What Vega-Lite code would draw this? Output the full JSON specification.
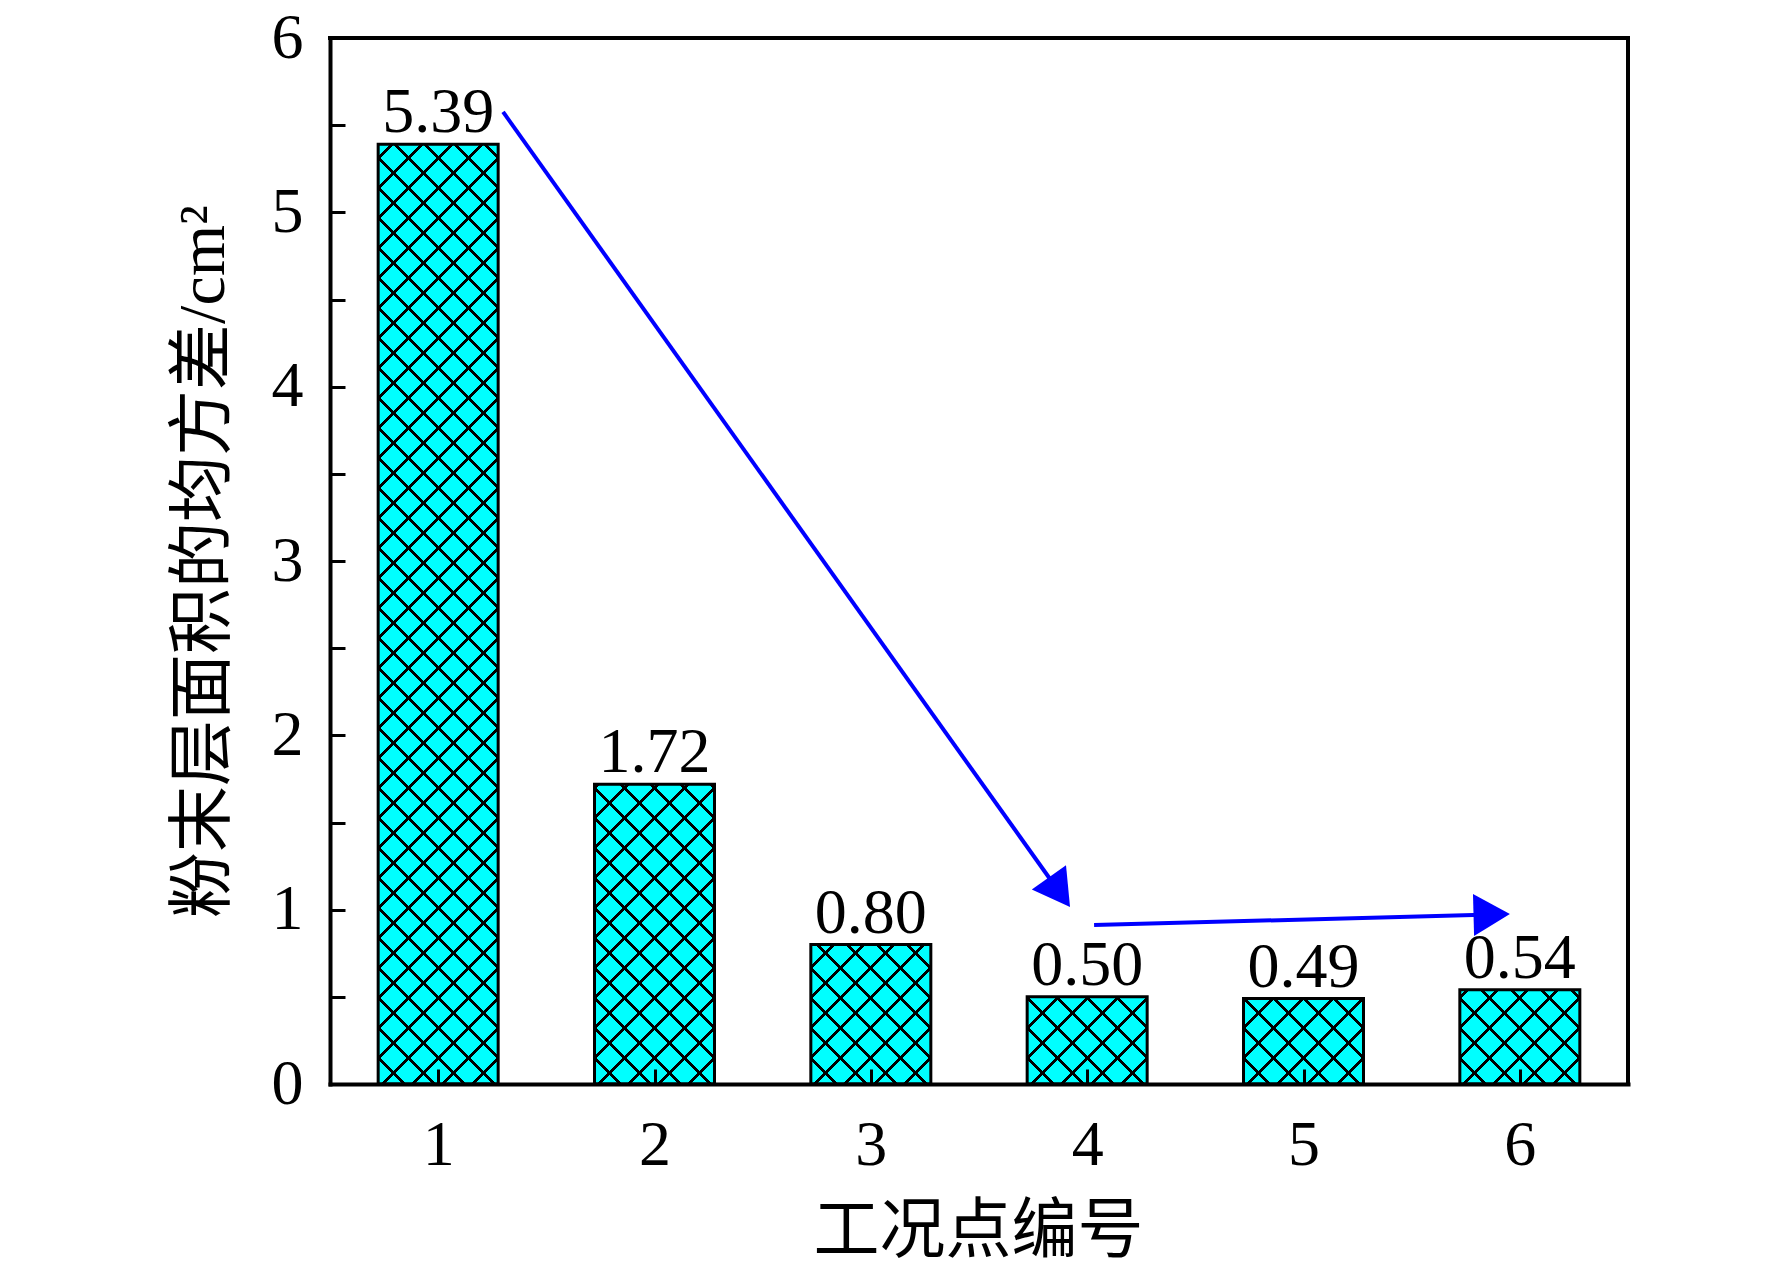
{
  "$schema": "https://vega.github.io/schema/vega-lite/v6.json",
  "width": 1298,
  "height": 1046,
  "autosize": "none",
  "padding": {"left": 330, "top": 38, "right": 144, "bottom": 184},
  "background": "white",
  "config": {"view": {"stroke": null}, "font": "Liberation Serif"},
  "datasets": {
    "bars": [
      {"case": 1, "value": 5.39},
      {"case": 2, "value": 1.72},
      {"case": 3, "value": 0.80},
      {"case": 4, "value": 0.50},
      {"case": 5, "value": 0.49},
      {"case": 6, "value": 0.54}
    ],
    "arrows": [
      {"arrow": "a", "step": 0, "ax": 1.300, "ay": 5.576},
      {"arrow": "a", "step": 1, "ax": 3.872, "ay": 1.100},
      {"arrow": "b", "step": 0, "ax": 4.032, "ay": 0.912},
      {"arrow": "b", "step": 1, "ax": 5.870, "ay": 0.972}
    ],
    "frame": [{}]
  },
  "layer": [
    {
      "data": {"name": "bars"},
      "mark": {"type": "bar", "width": 120, "fill": "#00ffff", "strokeWidth": 0},
      "encoding": {
        "x": {
          "field": "case", "type": "quantitative", "title": "工况点编号",
          "scale": {"domain": [0.5, 6.5], "nice": false, "zero": false, "padding": 0},
          "axis": {
            "values": [1, 2, 3, 4, 5, 6], "format": "d", "title": "工况点编号", "grid": false,
            "domainColor": "black", "domainWidth": 4, "domainCap": "square",
            "tickColor": "black", "tickWidth": 3, "tickSize": -15,
            "labelFont": "Liberation Serif", "labelFontSize": 64, "labelColor": "black",
            "labelPadding": 44, "labelFlush": false, "labelOverlap": false,
            "titleFont": "Liberation Serif, Noto Sans CJK SC", "titleFontSize": 66,
            "titleFontWeight": "normal", "titleColor": "black",
            "titleX": 648, "titleY": 147, "titleAlign": "center", "titleBaseline": "middle",
            "zindex": 1
          }
        },
        "y": {
          "field": "value", "type": "quantitative", "title": "粉末层面积的均方差/cm²",
          "scale": {"domain": [0, 6], "nice": false, "padding": 0},
          "axis": {
            "values": [0, 0.5, 1, 1.5, 2, 2.5, 3, 3.5, 4, 4.5, 5, 5.5, 6],
            "labelExpr": "datum.value % 1 === 0 ? format(datum.value, 'd') : ''",
            "title": "粉末层面积的均方差/cm²", "grid": false,
            "domainColor": "black", "domainWidth": 4, "domainCap": "square",
            "tickColor": "black", "tickWidth": 3, "tickSize": -15,
            "labelFont": "Liberation Serif", "labelFontSize": 64, "labelColor": "black",
            "labelPadding": 42, "labelFlush": false, "labelOverlap": false,
            "titleFont": "Liberation Serif, Noto Sans CJK SC", "titleFontSize": 66,
            "titleFontWeight": "normal", "titleColor": "black",
            "titleX": -127, "titleY": 523, "titleAlign": "center", "titleBaseline": "middle",
            "zindex": 1
          }
        },
        "y2": {"datum": 0}
      }
    },
    {
      "data": {"name": "bars"},
      "mark": {
        "type": "bar", "width": 120, "strokeWidth": 0,
        "fill": {
          "gradient": "linear", "x1": 0, "y1": 0, "x2": 0.12622, "y2": 1.10027,
          "stops": [
            {"offset": 0, "color": "transparent"},
            {"offset": 0.0240, "color": "transparent"}, {"offset": 0.0240, "color": "#000"}, {"offset": 0.0274, "color": "#000"}, {"offset": 0.0274, "color": "transparent"},
            {"offset": 0.0498, "color": "transparent"}, {"offset": 0.0498, "color": "#000"}, {"offset": 0.0532, "color": "#000"}, {"offset": 0.0532, "color": "transparent"},
            {"offset": 0.0755, "color": "transparent"}, {"offset": 0.0755, "color": "#000"}, {"offset": 0.0789, "color": "#000"}, {"offset": 0.0789, "color": "transparent"},
            {"offset": 0.1012, "color": "transparent"}, {"offset": 0.1012, "color": "#000"}, {"offset": 0.1046, "color": "#000"}, {"offset": 0.1046, "color": "transparent"},
            {"offset": 0.1270, "color": "transparent"}, {"offset": 0.1270, "color": "#000"}, {"offset": 0.1304, "color": "#000"}, {"offset": 0.1304, "color": "transparent"},
            {"offset": 0.1527, "color": "transparent"}, {"offset": 0.1527, "color": "#000"}, {"offset": 0.1561, "color": "#000"}, {"offset": 0.1561, "color": "transparent"},
            {"offset": 0.1784, "color": "transparent"}, {"offset": 0.1784, "color": "#000"}, {"offset": 0.1818, "color": "#000"}, {"offset": 0.1818, "color": "transparent"},
            {"offset": 0.2041, "color": "transparent"}, {"offset": 0.2041, "color": "#000"}, {"offset": 0.2075, "color": "#000"}, {"offset": 0.2075, "color": "transparent"},
            {"offset": 0.2299, "color": "transparent"}, {"offset": 0.2299, "color": "#000"}, {"offset": 0.2333, "color": "#000"}, {"offset": 0.2333, "color": "transparent"},
            {"offset": 0.2556, "color": "transparent"}, {"offset": 0.2556, "color": "#000"}, {"offset": 0.2590, "color": "#000"}, {"offset": 0.2590, "color": "transparent"},
            {"offset": 0.2813, "color": "transparent"}, {"offset": 0.2813, "color": "#000"}, {"offset": 0.2847, "color": "#000"}, {"offset": 0.2847, "color": "transparent"},
            {"offset": 0.3071, "color": "transparent"}, {"offset": 0.3071, "color": "#000"}, {"offset": 0.3105, "color": "#000"}, {"offset": 0.3105, "color": "transparent"},
            {"offset": 0.3328, "color": "transparent"}, {"offset": 0.3328, "color": "#000"}, {"offset": 0.3362, "color": "#000"}, {"offset": 0.3362, "color": "transparent"},
            {"offset": 0.3585, "color": "transparent"}, {"offset": 0.3585, "color": "#000"}, {"offset": 0.3619, "color": "#000"}, {"offset": 0.3619, "color": "transparent"},
            {"offset": 0.3842, "color": "transparent"}, {"offset": 0.3842, "color": "#000"}, {"offset": 0.3876, "color": "#000"}, {"offset": 0.3876, "color": "transparent"},
            {"offset": 0.4100, "color": "transparent"}, {"offset": 0.4100, "color": "#000"}, {"offset": 0.4134, "color": "#000"}, {"offset": 0.4134, "color": "transparent"},
            {"offset": 0.4357, "color": "transparent"}, {"offset": 0.4357, "color": "#000"}, {"offset": 0.4391, "color": "#000"}, {"offset": 0.4391, "color": "transparent"},
            {"offset": 0.4614, "color": "transparent"}, {"offset": 0.4614, "color": "#000"}, {"offset": 0.4648, "color": "#000"}, {"offset": 0.4648, "color": "transparent"},
            {"offset": 0.4872, "color": "transparent"}, {"offset": 0.4872, "color": "#000"}, {"offset": 0.4906, "color": "#000"}, {"offset": 0.4906, "color": "transparent"},
            {"offset": 0.5129, "color": "transparent"}, {"offset": 0.5129, "color": "#000"}, {"offset": 0.5163, "color": "#000"}, {"offset": 0.5163, "color": "transparent"},
            {"offset": 0.5386, "color": "transparent"}, {"offset": 0.5386, "color": "#000"}, {"offset": 0.5420, "color": "#000"}, {"offset": 0.5420, "color": "transparent"},
            {"offset": 0.5643, "color": "transparent"}, {"offset": 0.5643, "color": "#000"}, {"offset": 0.5677, "color": "#000"}, {"offset": 0.5677, "color": "transparent"},
            {"offset": 0.5901, "color": "transparent"}, {"offset": 0.5901, "color": "#000"}, {"offset": 0.5935, "color": "#000"}, {"offset": 0.5935, "color": "transparent"},
            {"offset": 0.6158, "color": "transparent"}, {"offset": 0.6158, "color": "#000"}, {"offset": 0.6192, "color": "#000"}, {"offset": 0.6192, "color": "transparent"},
            {"offset": 0.6415, "color": "transparent"}, {"offset": 0.6415, "color": "#000"}, {"offset": 0.6449, "color": "#000"}, {"offset": 0.6449, "color": "transparent"},
            {"offset": 0.6673, "color": "transparent"}, {"offset": 0.6673, "color": "#000"}, {"offset": 0.6707, "color": "#000"}, {"offset": 0.6707, "color": "transparent"},
            {"offset": 0.6930, "color": "transparent"}, {"offset": 0.6930, "color": "#000"}, {"offset": 0.6964, "color": "#000"}, {"offset": 0.6964, "color": "transparent"},
            {"offset": 0.7187, "color": "transparent"}, {"offset": 0.7187, "color": "#000"}, {"offset": 0.7221, "color": "#000"}, {"offset": 0.7221, "color": "transparent"},
            {"offset": 0.7444, "color": "transparent"}, {"offset": 0.7444, "color": "#000"}, {"offset": 0.7478, "color": "#000"}, {"offset": 0.7478, "color": "transparent"},
            {"offset": 0.7702, "color": "transparent"}, {"offset": 0.7702, "color": "#000"}, {"offset": 0.7736, "color": "#000"}, {"offset": 0.7736, "color": "transparent"},
            {"offset": 0.7959, "color": "transparent"}, {"offset": 0.7959, "color": "#000"}, {"offset": 0.7993, "color": "#000"}, {"offset": 0.7993, "color": "transparent"},
            {"offset": 0.8216, "color": "transparent"}, {"offset": 0.8216, "color": "#000"}, {"offset": 0.8250, "color": "#000"}, {"offset": 0.8250, "color": "transparent"},
            {"offset": 0.8474, "color": "transparent"}, {"offset": 0.8474, "color": "#000"}, {"offset": 0.8508, "color": "#000"}, {"offset": 0.8508, "color": "transparent"},
            {"offset": 0.8731, "color": "transparent"}, {"offset": 0.8731, "color": "#000"}, {"offset": 0.8765, "color": "#000"}, {"offset": 0.8765, "color": "transparent"},
            {"offset": 0.8988, "color": "transparent"}, {"offset": 0.8988, "color": "#000"}, {"offset": 0.9022, "color": "#000"}, {"offset": 0.9022, "color": "transparent"},
            {"offset": 0.9245, "color": "transparent"}, {"offset": 0.9245, "color": "#000"}, {"offset": 0.9279, "color": "#000"}, {"offset": 0.9279, "color": "transparent"},
            {"offset": 0.9503, "color": "transparent"}, {"offset": 0.9503, "color": "#000"}, {"offset": 0.9537, "color": "#000"}, {"offset": 0.9537, "color": "transparent"},
            {"offset": 0.9760, "color": "transparent"}, {"offset": 0.9760, "color": "#000"}, {"offset": 0.9794, "color": "#000"}, {"offset": 0.9794, "color": "transparent"},
            {"offset": 1, "color": "transparent"}
          ]
        }
      },
      "encoding": {
        "x": {"field": "case", "type": "quantitative", "title": "工况点编号"},
        "y": {"datum": 6, "title": "粉末层面积的均方差/cm²"},
        "y2": {"datum": 0}
      }
    },
    {
      "data": {"name": "bars"},
      "mark": {
        "type": "bar", "width": 120, "strokeWidth": 0,
        "fill": {
          "gradient": "linear", "x1": 1, "y1": 0, "x2": 0.87378, "y2": 1.10027,
          "stops": [
            {"offset": 0, "color": "transparent"},
            {"offset": 0.0240, "color": "transparent"}, {"offset": 0.0240, "color": "#000"}, {"offset": 0.0274, "color": "#000"}, {"offset": 0.0274, "color": "transparent"},
            {"offset": 0.0498, "color": "transparent"}, {"offset": 0.0498, "color": "#000"}, {"offset": 0.0532, "color": "#000"}, {"offset": 0.0532, "color": "transparent"},
            {"offset": 0.0755, "color": "transparent"}, {"offset": 0.0755, "color": "#000"}, {"offset": 0.0789, "color": "#000"}, {"offset": 0.0789, "color": "transparent"},
            {"offset": 0.1012, "color": "transparent"}, {"offset": 0.1012, "color": "#000"}, {"offset": 0.1046, "color": "#000"}, {"offset": 0.1046, "color": "transparent"},
            {"offset": 0.1270, "color": "transparent"}, {"offset": 0.1270, "color": "#000"}, {"offset": 0.1304, "color": "#000"}, {"offset": 0.1304, "color": "transparent"},
            {"offset": 0.1527, "color": "transparent"}, {"offset": 0.1527, "color": "#000"}, {"offset": 0.1561, "color": "#000"}, {"offset": 0.1561, "color": "transparent"},
            {"offset": 0.1784, "color": "transparent"}, {"offset": 0.1784, "color": "#000"}, {"offset": 0.1818, "color": "#000"}, {"offset": 0.1818, "color": "transparent"},
            {"offset": 0.2041, "color": "transparent"}, {"offset": 0.2041, "color": "#000"}, {"offset": 0.2075, "color": "#000"}, {"offset": 0.2075, "color": "transparent"},
            {"offset": 0.2299, "color": "transparent"}, {"offset": 0.2299, "color": "#000"}, {"offset": 0.2333, "color": "#000"}, {"offset": 0.2333, "color": "transparent"},
            {"offset": 0.2556, "color": "transparent"}, {"offset": 0.2556, "color": "#000"}, {"offset": 0.2590, "color": "#000"}, {"offset": 0.2590, "color": "transparent"},
            {"offset": 0.2813, "color": "transparent"}, {"offset": 0.2813, "color": "#000"}, {"offset": 0.2847, "color": "#000"}, {"offset": 0.2847, "color": "transparent"},
            {"offset": 0.3071, "color": "transparent"}, {"offset": 0.3071, "color": "#000"}, {"offset": 0.3105, "color": "#000"}, {"offset": 0.3105, "color": "transparent"},
            {"offset": 0.3328, "color": "transparent"}, {"offset": 0.3328, "color": "#000"}, {"offset": 0.3362, "color": "#000"}, {"offset": 0.3362, "color": "transparent"},
            {"offset": 0.3585, "color": "transparent"}, {"offset": 0.3585, "color": "#000"}, {"offset": 0.3619, "color": "#000"}, {"offset": 0.3619, "color": "transparent"},
            {"offset": 0.3842, "color": "transparent"}, {"offset": 0.3842, "color": "#000"}, {"offset": 0.3876, "color": "#000"}, {"offset": 0.3876, "color": "transparent"},
            {"offset": 0.4100, "color": "transparent"}, {"offset": 0.4100, "color": "#000"}, {"offset": 0.4134, "color": "#000"}, {"offset": 0.4134, "color": "transparent"},
            {"offset": 0.4357, "color": "transparent"}, {"offset": 0.4357, "color": "#000"}, {"offset": 0.4391, "color": "#000"}, {"offset": 0.4391, "color": "transparent"},
            {"offset": 0.4614, "color": "transparent"}, {"offset": 0.4614, "color": "#000"}, {"offset": 0.4648, "color": "#000"}, {"offset": 0.4648, "color": "transparent"},
            {"offset": 0.4872, "color": "transparent"}, {"offset": 0.4872, "color": "#000"}, {"offset": 0.4906, "color": "#000"}, {"offset": 0.4906, "color": "transparent"},
            {"offset": 0.5129, "color": "transparent"}, {"offset": 0.5129, "color": "#000"}, {"offset": 0.5163, "color": "#000"}, {"offset": 0.5163, "color": "transparent"},
            {"offset": 0.5386, "color": "transparent"}, {"offset": 0.5386, "color": "#000"}, {"offset": 0.5420, "color": "#000"}, {"offset": 0.5420, "color": "transparent"},
            {"offset": 0.5643, "color": "transparent"}, {"offset": 0.5643, "color": "#000"}, {"offset": 0.5677, "color": "#000"}, {"offset": 0.5677, "color": "transparent"},
            {"offset": 0.5901, "color": "transparent"}, {"offset": 0.5901, "color": "#000"}, {"offset": 0.5935, "color": "#000"}, {"offset": 0.5935, "color": "transparent"},
            {"offset": 0.6158, "color": "transparent"}, {"offset": 0.6158, "color": "#000"}, {"offset": 0.6192, "color": "#000"}, {"offset": 0.6192, "color": "transparent"},
            {"offset": 0.6415, "color": "transparent"}, {"offset": 0.6415, "color": "#000"}, {"offset": 0.6449, "color": "#000"}, {"offset": 0.6449, "color": "transparent"},
            {"offset": 0.6673, "color": "transparent"}, {"offset": 0.6673, "color": "#000"}, {"offset": 0.6707, "color": "#000"}, {"offset": 0.6707, "color": "transparent"},
            {"offset": 0.6930, "color": "transparent"}, {"offset": 0.6930, "color": "#000"}, {"offset": 0.6964, "color": "#000"}, {"offset": 0.6964, "color": "transparent"},
            {"offset": 0.7187, "color": "transparent"}, {"offset": 0.7187, "color": "#000"}, {"offset": 0.7221, "color": "#000"}, {"offset": 0.7221, "color": "transparent"},
            {"offset": 0.7444, "color": "transparent"}, {"offset": 0.7444, "color": "#000"}, {"offset": 0.7478, "color": "#000"}, {"offset": 0.7478, "color": "transparent"},
            {"offset": 0.7702, "color": "transparent"}, {"offset": 0.7702, "color": "#000"}, {"offset": 0.7736, "color": "#000"}, {"offset": 0.7736, "color": "transparent"},
            {"offset": 0.7959, "color": "transparent"}, {"offset": 0.7959, "color": "#000"}, {"offset": 0.7993, "color": "#000"}, {"offset": 0.7993, "color": "transparent"},
            {"offset": 0.8216, "color": "transparent"}, {"offset": 0.8216, "color": "#000"}, {"offset": 0.8250, "color": "#000"}, {"offset": 0.8250, "color": "transparent"},
            {"offset": 0.8474, "color": "transparent"}, {"offset": 0.8474, "color": "#000"}, {"offset": 0.8508, "color": "#000"}, {"offset": 0.8508, "color": "transparent"},
            {"offset": 0.8731, "color": "transparent"}, {"offset": 0.8731, "color": "#000"}, {"offset": 0.8765, "color": "#000"}, {"offset": 0.8765, "color": "transparent"},
            {"offset": 0.8988, "color": "transparent"}, {"offset": 0.8988, "color": "#000"}, {"offset": 0.9022, "color": "#000"}, {"offset": 0.9022, "color": "transparent"},
            {"offset": 0.9245, "color": "transparent"}, {"offset": 0.9245, "color": "#000"}, {"offset": 0.9279, "color": "#000"}, {"offset": 0.9279, "color": "transparent"},
            {"offset": 0.9503, "color": "transparent"}, {"offset": 0.9503, "color": "#000"}, {"offset": 0.9537, "color": "#000"}, {"offset": 0.9537, "color": "transparent"},
            {"offset": 0.9760, "color": "transparent"}, {"offset": 0.9760, "color": "#000"}, {"offset": 0.9794, "color": "#000"}, {"offset": 0.9794, "color": "transparent"},
            {"offset": 1, "color": "transparent"}
          ]
        }
      },
      "encoding": {
        "x": {"field": "case", "type": "quantitative", "title": "工况点编号"},
        "y": {"datum": 6, "title": "粉末层面积的均方差/cm²"},
        "y2": {"datum": 0}
      }
    },
    {
      "data": {"name": "bars"},
      "mark": {"type": "bar", "width": 126, "fill": "white", "strokeWidth": 0},
      "encoding": {
        "x": {"field": "case", "type": "quantitative", "title": "工况点编号"},
        "y": {"field": "value", "type": "quantitative", "title": "粉末层面积的均方差/cm²"},
        "y2": {"datum": 6}
      }
    },
    {
      "data": {"name": "bars"},
      "mark": {"type": "bar", "width": 120, "fill": "white", "fillOpacity": 0, "stroke": "black", "strokeWidth": 3},
      "encoding": {
        "x": {"field": "case", "type": "quantitative", "title": "工况点编号"},
        "y": {"field": "value", "type": "quantitative", "title": "粉末层面积的均方差/cm²"},
        "y2": {"datum": 0}
      }
    },
    {
      "data": {"name": "bars"},
      "mark": {"type": "text", "font": "Liberation Serif", "fontSize": 64, "color": "black", "baseline": "alphabetic", "align": "center", "dy": -12},
      "encoding": {
        "x": {"field": "case", "type": "quantitative", "title": "工况点编号"},
        "y": {"field": "value", "type": "quantitative", "title": "粉末层面积的均方差/cm²"},
        "text": {"field": "value", "type": "quantitative", "format": ".2f"}
      }
    },
    {
      "data": {"name": "arrows"},
      "mark": {"type": "line", "stroke": "#0000ff", "strokeWidth": 4},
      "encoding": {
        "x": {"field": "ax", "type": "quantitative", "title": "工况点编号"},
        "y": {"field": "ay", "type": "quantitative", "title": "粉末层面积的均方差/cm²"},
        "detail": {"field": "arrow"},
        "order": {"field": "step"}
      }
    },
    {
      "data": {"name": "arrows"},
      "transform": [{"filter": "datum.arrow === 'a' && datum.step === 1"}],
      "mark": {"type": "point", "shape": "triangle-right", "size": 1764, "filled": true, "fill": "#0000ff", "opacity": 1, "strokeWidth": 0, "angle": 54.5},
      "encoding": {
        "x": {"field": "ax", "type": "quantitative", "title": "工况点编号"},
        "y": {"field": "ay", "type": "quantitative", "title": "粉末层面积的均方差/cm²"}
      }
    },
    {
      "data": {"name": "arrows"},
      "transform": [{"filter": "datum.arrow === 'b' && datum.step === 1"}],
      "mark": {"type": "point", "shape": "triangle-right", "size": 1764, "filled": true, "fill": "#0000ff", "opacity": 1, "strokeWidth": 0, "angle": -1.5},
      "encoding": {
        "x": {"field": "ax", "type": "quantitative", "title": "工况点编号"},
        "y": {"field": "ay", "type": "quantitative", "title": "粉末层面积的均方差/cm²"}
      }
    },
    {
      "data": {"name": "frame"},
      "mark": {"type": "rule", "stroke": "black", "strokeWidth": 4, "strokeCap": "square"},
      "encoding": {"y": {"datum": 6, "title": "粉末层面积的均方差/cm²"}}
    },
    {
      "data": {"name": "frame"},
      "mark": {"type": "rule", "stroke": "black", "strokeWidth": 4, "strokeCap": "square"},
      "encoding": {"x": {"datum": 6.5, "title": "工况点编号"}}
    }
  ]
}
